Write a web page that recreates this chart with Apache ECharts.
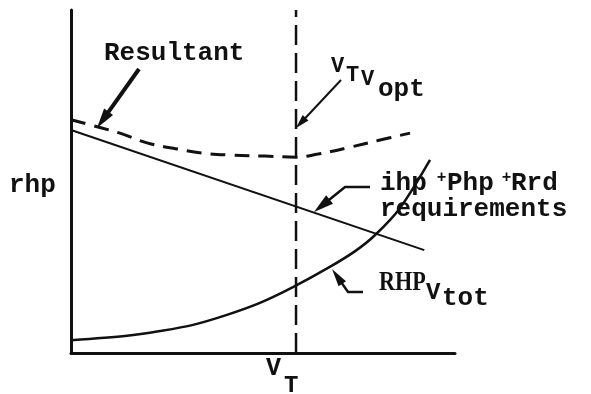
<!DOCTYPE html>
<html><head><meta charset="utf-8">
<script src="https://cdn.jsdelivr.net/npm/echarts@6/dist/echarts.min.js"></script>
<style>html,body{margin:0;padding:0;background:#fff}#c{width:591px;height:394px}</style>
</head><body><div id="c"></div>
<script>
// Data (arbitrary units, x: speed 0..100, y: rhp 0..100)
const resultantX = [0, 8, 13.5, 20, 27.6, 34.1, 41.4, 50.5, 58.6, 64.3, 71.9, 80.5, 88.3];
const resultantY = [68, 65.6, 63.8, 61.2, 59.5, 58.3, 57.7, 57.4, 57.1, 58.0, 59.8, 62.1, 64.1];
const requirementsX = [0, 92];
const requirementsY = [65, 30];
const rhpVtotX = [0, 14.6, 23.2, 31.8, 40.6, 49.2, 57.8, 67.4, 74.0, 79.2, 85.7, 93.5];
const rhpVtotY = [3.7, 5.0, 6.4, 8.2, 11.1, 14.6, 19.2, 25.1, 29.7, 34.4, 42.3, 56.3];
const vT = 58.6;

const zip = (xs, ys) => xs.map((x, i) => [x, ys[i]]);
const INK = '#111';
const MONO = '"Liberation Mono", "DejaVu Sans Mono", monospace';
const SERIF = '"Liberation Serif", serif';

function arrow(points, headLen, headW, lw) {
  const n = points.length;
  const [x1, y1] = points[n - 2], [x2, y2] = points[n - 1];
  const dx = x2 - x1, dy = y2 - y1, L = Math.hypot(dx, dy);
  const ux = dx / L, uy = dy / L;
  const bx = x2 - ux * headLen, by = y2 - uy * headLen;
  const shaft = points.slice(0, n - 1).concat([[bx + ux * 2, by + uy * 2]]);
  return [
    { type: 'polyline', shape: { points: shaft }, style: { stroke: INK, lineWidth: lw, fill: null } },
    { type: 'polygon', shape: { points: [[x2, y2], [bx - uy * headW / 2, by + ux * headW / 2], [bx + uy * headW / 2, by - ux * headW / 2]] }, style: { fill: INK } }
  ];
}
function txt(x, y, s, font, align, extra) {
  return Object.assign({ type: 'text', x: x, y: y, style: { text: s, font: font, fill: INK, verticalAlign: 'middle', align: align || 'left' } }, extra || {});
}

const chart = echarts.init(document.getElementById('c'), null, { renderer: 'canvas' });
const graphics = [].concat(
  [
    txt(104, 53, 'Resultant', 'bold 26px ' + MONO),
    txt(9, 185, 'rhp', 'bold 26px ' + MONO),
    // V_T V_opt
    txt(331, 66, 'V', 'bold 22px ' + MONO),
    txt(346, 75, 'T', 'bold 22px ' + MONO),
    txt(361, 79, 'V', 'bold 22px ' + MONO),
    txt(378, 89, 'opt', 'bold 26px ' + MONO),
    // ihp + Php + Rrd
    txt(380, 183.5, 'ihp', 'bold 26px ' + MONO),
    txt(441.5, 178, '+', 'bold 16px ' + MONO, 'center'),
    txt(447, 183.5, 'Php', 'bold 26px ' + MONO),
    txt(506.5, 178, '+', 'bold 16px ' + MONO, 'center'),
    txt(511, 183.5, 'Rrd', 'bold 26px ' + MONO),
    txt(380, 209.5, 'requirements', 'bold 26px ' + MONO),
    // RHP_Vtot
    txt(379, 283, 'RHP', 'bold 27px ' + SERIF, 'left', { scaleX: 0.82 }),
    txt(426, 293, 'V', 'bold 24px ' + MONO),
    txt(442, 298, 'tot', 'bold 26px ' + MONO),
    // V_T on axis
    txt(266, 369, 'V', 'bold 25px ' + MONO),
    txt(284, 386, 'T', 'bold 24px ' + MONO)
  ],
  arrow([[139, 69], [97, 128]], 20, 11, 4),
  arrow([[341, 80], [296, 128]], 14, 8, 2),
  arrow([[370, 187], [345, 187], [314, 212]], 20, 11, 2.5),
  arrow([[363, 292], [348, 292], [332, 269]], 18, 9, 2.5)
);

chart.setOption({
  backgroundColor: '#fff',
  animation: false,
  grid: { left: 71, top: 10, width: 384, height: 343, containLabel: false },
  xAxis: {
    type: 'value', min: 0, max: 100,
    axisLine: { show: true, onZero: false, lineStyle: { color: INK, width: 3 } },
    axisTick: { show: false }, axisLabel: { show: false }, splitLine: { show: false }
  },
  yAxis: {
    type: 'value', min: 0, max: 100,
    axisLine: { show: true, onZero: false, lineStyle: { color: INK, width: 3 } },
    axisTick: { show: false }, axisLabel: { show: false }, splitLine: { show: false }
  },
  series: [
    { type: 'line', name: 'Resultant', data: zip(resultantX, resultantY), smooth: 0.4, showSymbol: false,
      lineStyle: { color: INK, width: 3, type: [15, 9] } },
    { type: 'line', name: 'ihp + Php + Rrd requirements', data: zip(requirementsX, requirementsY), showSymbol: false,
      lineStyle: { color: INK, width: 2 } },
    { type: 'line', name: 'RHP Vtot', data: zip(rhpVtotX, rhpVtotY), smooth: 0.3, showSymbol: false,
      lineStyle: { color: INK, width: 2.5 } },
    { type: 'line', name: 'VT', data: [[vT, 0], [vT, 100]], showSymbol: false,
      lineStyle: { color: INK, width: 2.5, type: [20, 8] } }
  ],
  graphic: graphics
});
</script></body></html>
